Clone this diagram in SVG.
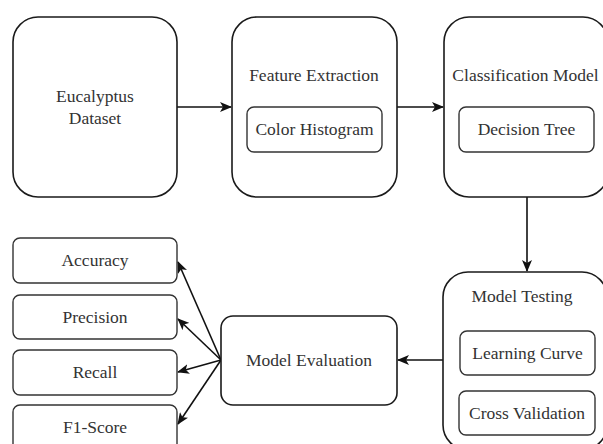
<svg xmlns="http://www.w3.org/2000/svg" width="603" height="444" viewBox="0 0 603 444">
<style>
.box{fill:#fff;stroke:#1a1a1a;stroke-width:1.6}
.inner{fill:#fff;stroke:#333;stroke-width:1.4}
text{font-size:17.5px;fill:#333;text-anchor:middle}
.edge{fill:none;stroke:#111;stroke-width:1.6}
</style>
<defs>
<marker id="arr" viewBox="0 0 12 10" refX="11" refY="5" markerWidth="12" markerHeight="10" markerUnits="userSpaceOnUse" orient="auto">
<path d="M0,0 L12,5 L0,10 L3,5 Z" fill="#111"/>
</marker>
</defs>
<g id="connectors">
<line class="edge" x1="177" y1="107" x2="231" y2="107" marker-end="url(#arr)"/>
<line class="edge" x1="397" y1="107" x2="443" y2="107" marker-end="url(#arr)"/>
<line class="edge" x1="527" y1="197" x2="527" y2="271" marker-end="url(#arr)"/>
<line class="edge" x1="443" y1="360" x2="398" y2="360" marker-end="url(#arr)"/>
<line class="edge" x1="221" y1="360" x2="178" y2="262" marker-end="url(#arr)"/>
<line class="edge" x1="221" y1="360" x2="178" y2="319" marker-end="url(#arr)"/>
<line class="edge" x1="221" y1="360" x2="178" y2="372" marker-end="url(#arr)"/>
<line class="edge" x1="221" y1="360" x2="178" y2="424" marker-end="url(#arr)"/>
</g>
<g font-family="Liberation Serif, serif">
<g id="dataset">
<rect class="box" x="13" y="17" width="164" height="180" rx="25"/>
<text x="95" y="102">Eucalyptus</text>
<text x="95" y="124">Dataset</text>
</g>
<g id="feature">
<rect class="box" x="232" y="17" width="165" height="180" rx="25"/>
<text x="314" y="81">Feature Extraction</text>
</g>
<g id="histogram">
<rect class="inner" x="247" y="107" width="135" height="45" rx="7"/>
<text x="314.5" y="135">Color Histogram</text>
</g>
<g id="classification">
<rect class="box" x="444" y="17" width="164" height="180" rx="25"/>
<text x="525.5" y="81">Classification Model</text>
</g>
<g id="tree">
<rect class="inner" x="459" y="107" width="135" height="45" rx="7"/>
<text x="526.5" y="135">Decision Tree</text>
</g>
<g id="testing">
<rect class="box" x="443" y="272" width="164" height="178" rx="25"/>
<text x="522" y="302">Model Testing</text>
</g>
<g id="learning">
<rect class="inner" x="460" y="331" width="135" height="44" rx="7"/>
<text x="527.5" y="359">Learning Curve</text>
</g>
<g id="cross">
<rect class="inner" x="459" y="391" width="136" height="44" rx="7"/>
<text x="527" y="419">Cross Validation</text>
</g>
<g id="evaluation">
<rect class="box" x="221" y="316" width="176" height="89" rx="12"/>
<text x="309" y="366">Model Evaluation</text>
</g>
<g id="accuracy">
<rect class="inner" x="13" y="238" width="164" height="45" rx="7"/>
<text x="95" y="266">Accuracy</text>
</g>
<g id="precision">
<rect class="inner" x="13" y="295" width="164" height="44" rx="7"/>
<text x="95" y="323">Precision</text>
</g>
<g id="recall">
<rect class="inner" x="13" y="350" width="164" height="45" rx="7"/>
<text x="95" y="378">Recall</text>
</g>
<g id="f1">
<rect class="inner" x="13" y="405" width="164" height="50" rx="7"/>
<text x="95" y="433">F1-Score</text>
</g>
</g>
</svg>
